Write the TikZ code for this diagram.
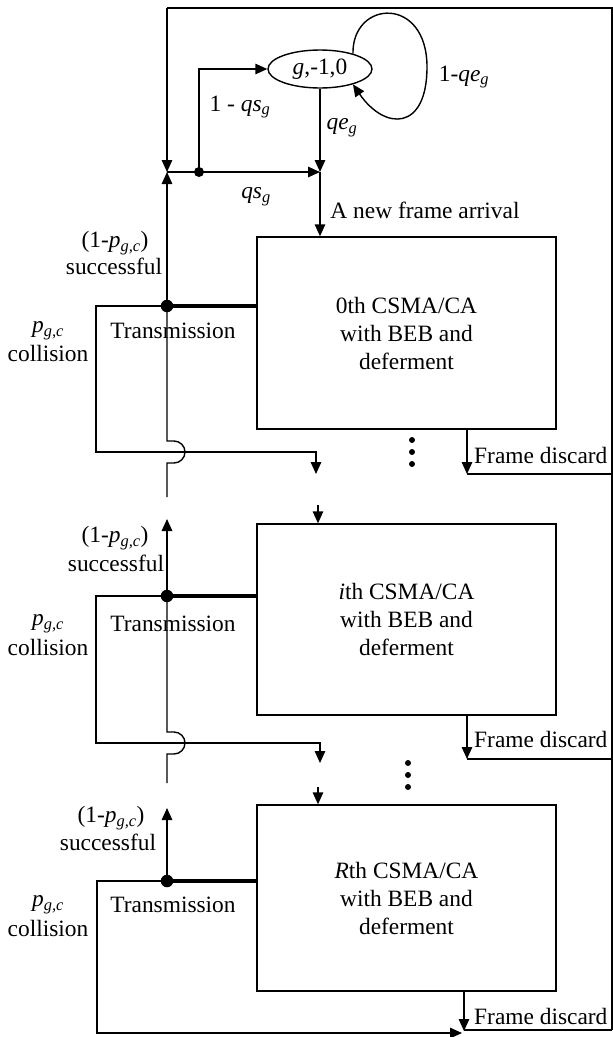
\documentclass[tikz,border=0pt]{standalone}
\usepackage{fontspec}
\setmainfont{Liberation Serif}
\usetikzlibrary{arrows.meta,shapes.geometric}
\begin{document}
\begin{tikzpicture}[x=1pt,y=-1pt,
  every node/.style={font=\fontsize{23.4}{28}\selectfont, inner sep=0pt},
  ln/.style={line width=1.4pt},
  arr/.style={line width=1.4pt, -{Triangle[length=12pt,width=10.5pt]}},
  tline/.style={line width=4.5pt},
  dotbig/.style={circle, fill, inner sep=0pt, minimum size=12.5pt},
  dotsmall/.style={circle, fill, inner sep=0pt, minimum size=10pt},
  edot/.style={circle, fill, inner sep=0pt, minimum size=6pt},
  stagebox/.style={draw, line width=1.4pt, minimum width=299pt, align=center}]
\useasboundingbox (0,0) rectangle (613,1037);

% --- coordinates of the outer loop
\coordinate (tl) at (167,8);
\coordinate (tr) at (612,8);
\coordinate (br) at (612,1030);
\coordinate (m) at (167,172);
\coordinate (a) at (320,172);

% --- top state
\node[draw, ellipse, line width=1.4pt, minimum width=104pt, minimum height=38pt] (ell) at (320,69) {\textit{g},-1,0};
\node[dotsmall] (jd) at (199,172) {};

% --- boxes
\node[stagebox, minimum height=192pt] (box0) at (406.5,333) {0th CSMA/CA\\with BEB and\\deferment};
\node[stagebox, minimum height=191pt] (boxi) at (406.5,619.5) {\textit{i}th CSMA/CA\\with BEB and\\deferment};
\node[stagebox, minimum height=186pt] (boxR) at (406.5,898) {\textit{R}th CSMA/CA\\with BEB and\\deferment};

% --- transmission dots
\node[dotbig] (d0) at (167,306) {};
\node[dotbig] (di) at (167,596) {};
\node[dotbig] (dR) at (167,881) {};

% --- outer loop
\draw[ln] (br) -- (tr) -- (tl);
\draw[arr] (tl) -- (m);
\draw[arr] (d0.center) -- (m);
\draw[arr] (m) -- (a);
\draw[arr] (jd.center) |- (ell.west);
\draw[arr] (ell.south) -- (a);
\draw[arr] (a) -- (a |- box0.north);
\draw[arr] (ell.25) .. controls (352,0) and (427,-5) .. (427,67)
                    .. controls (427,131) and (385,131) .. (ell.-25);

% --- top labels
\node (l1) at (240,107) {1 - \textit{qs}\textsubscript{\textit{g}}};
\node (l2) at (342,128) {\textit{qe}\textsubscript{\textit{g}}};
\node (l3) at (464,77) {1-\textit{qe}\textsubscript{\textit{g}}};
\node (l4) at (256,197) {\textit{qs}\textsubscript{\textit{g}}};
\node (l5) at (425,210) {A new frame arrival};

% --- stage 0
\draw[tline] (d0.center) -- (d0 -| box0.west);
\coordinate (c0) at (96,452);
\coordinate (t0) at (316,474);
\draw[arr] (d0.center) -| (c0) -| (t0);
\draw[ln] (d0.center) -- (167,441) -- (174,441) arc[start angle=-90,end angle=90,radius=11] -- (167,463) -- (167,497);
\coordinate (x0) at (467,474);
\draw[arr] (x0 |- box0.south) -- (x0);
\draw[ln] (x0) -- (x0 -| tr);
\node[anchor=west] (fd0) at (474,455) {Frame discard};
\node (s0a) at (115,243) {(1-\textit{p}\textsubscript{\textit{g,c}})};
\node (s0b) at (114,266) {successful};
\node (p0a) at (48,331) {\textit{p}\textsubscript{\textit{g,c}}};
\node (p0b) at (48,353) {collision};
\node (tx0) at (173,331) {Transmission};
\node[edot] (e01) at (412,440) {};
\node[edot] (e02) at (412,452) {};
\node[edot] (e03) at (412,464) {};

% --- stage i
\coordinate (ui) at (167,519);
\draw[arr] (di.center) -- (ui);
\coordinate (ini) at (318,505);
\draw[arr] (ini) -- (ini |- boxi.north);
\draw[tline] (di.center) -- (di -| boxi.west);
\coordinate (ci) at (96,743);
\coordinate (ti) at (320,763);
\draw[arr] (di.center) -| (ci) -| (ti);
\draw[ln] (di.center) -- (167,732) -- (174,732) arc[start angle=-90,end angle=90,radius=11] -- (167,754) -- (167,783);
\coordinate (xi) at (467,759);
\draw[arr] (xi |- boxi.south) -- (xi);
\draw[ln] (xi) -- (xi -| tr);
\node[anchor=west] (fdi) at (474,739) {Frame discard};
\node (sia) at (115,538) {(1-\textit{p}\textsubscript{\textit{g,c}})};
\node (sib) at (116,563) {successful};
\node (pia) at (48,624) {\textit{p}\textsubscript{\textit{g,c}}};
\node (pib) at (48,647) {collision};
\node (txi) at (173,624) {Transmission};
\node[edot] (ei1) at (408,763) {};
\node[edot] (ei2) at (408,775) {};
\node[edot] (ei3) at (408,787) {};

% --- stage R
\coordinate (uR) at (167,808);
\draw[arr] (dR.center) -- (uR);
\coordinate (inR) at (318,787);
\draw[arr] (inR) -- (inR |- boxR.north);
\draw[tline] (dR.center) -- (dR -| boxR.west);
\coordinate (cR) at (97,1033);
\coordinate (tR) at (462,1033);
\draw[arr] (dR.center) -| (cR) -- (tR);
\coordinate (xR) at (464,1031);
\draw[arr] (xR |- boxR.south) -- (xR);
\draw[ln] (xR |- br) -- (br);
\node[anchor=west] (fdR) at (474,1016) {Frame discard};
\node (sRa) at (111,818) {(1-\textit{p}\textsubscript{\textit{g,c}})};
\node (sRb) at (108,842) {successful};
\node (pRa) at (48,905) {\textit{p}\textsubscript{\textit{g,c}}};
\node (pRb) at (48,928) {collision};
\node (txR) at (173,905) {Transmission};
\end{tikzpicture}
\end{document}
